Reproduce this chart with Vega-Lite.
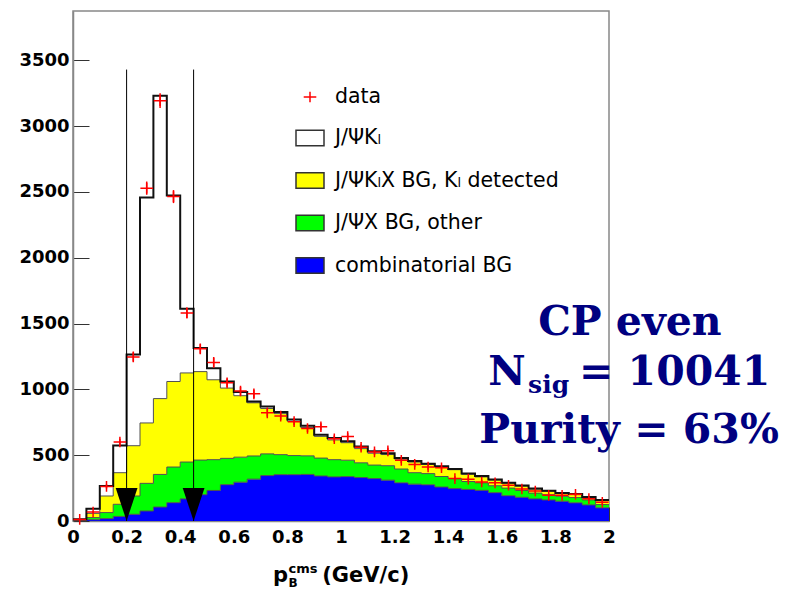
{
  "$schema": "https://vega.github.io/schema/vega-lite/v6.json",
  "width": 536,
  "height": 510,
  "autosize": "none",
  "padding": {"left": 73, "top": 11, "right": 176, "bottom": 70},
  "background": "white",
  "config": {"view": {"stroke": "#888888", "strokeWidth": 1.5}, "font": "DejaVu Sans"},
  "data": {"values": [
    {"p": 0.00, "c": 0.025, "comb": 2, "jpsix": 2, "kldet": 4, "sig": 6, "n": 12, "e": 3.5},
    {"p": 0.05, "c": 0.075, "comb": 10, "jpsix": 16, "kldet": 32, "sig": 36, "n": 68, "e": 8.2},
    {"p": 0.10, "c": 0.125, "comb": 18, "jpsix": 46, "kldet": 126, "sig": 76, "n": 263, "e": 16.2},
    {"p": 0.15, "c": 0.175, "comb": 35, "jpsix": 92, "kldet": 240, "sig": 207, "n": 600, "e": 24.5},
    {"p": 0.20, "c": 0.225, "comb": 51, "jpsix": 139, "kldet": 382, "sig": 693, "n": 1247, "e": 35.3},
    {"p": 0.25, "c": 0.275, "comb": 76, "jpsix": 210, "kldet": 459, "sig": 1713, "n": 2529, "e": 50.3},
    {"p": 0.30, "c": 0.325, "comb": 106, "jpsix": 248, "kldet": 576, "sig": 2302, "n": 3194, "e": 56.5},
    {"p": 0.35, "c": 0.375, "comb": 139, "jpsix": 271, "kldet": 650, "sig": 1413, "n": 2465, "e": 49.6},
    {"p": 0.40, "c": 0.425, "comb": 168, "jpsix": 280, "kldet": 677, "sig": 488, "n": 1581, "e": 39.8},
    {"p": 0.45, "c": 0.475, "comb": 200, "jpsix": 263, "kldet": 672, "sig": 180, "n": 1308, "e": 36.2},
    {"p": 0.50, "c": 0.525, "comb": 232, "jpsix": 234, "kldet": 607, "sig": 87, "n": 1205, "e": 34.7},
    {"p": 0.55, "c": 0.575, "comb": 276, "jpsix": 200, "kldet": 534, "sig": 50, "n": 1050, "e": 32.4},
    {"p": 0.60, "c": 0.625, "comb": 295, "jpsix": 190, "kldet": 467, "sig": 28, "n": 988, "e": 31.4},
    {"p": 0.65, "c": 0.675, "comb": 318, "jpsix": 176, "kldet": 404, "sig": 10, "n": 966, "e": 31.1},
    {"p": 0.70, "c": 0.725, "comb": 345, "jpsix": 165, "kldet": 345, "sig": 15, "n": 822, "e": 28.7},
    {"p": 0.75, "c": 0.775, "comb": 352, "jpsix": 152, "kldet": 312, "sig": 12, "n": 797, "e": 28.2},
    {"p": 0.80, "c": 0.825, "comb": 352, "jpsix": 145, "kldet": 260, "sig": 15, "n": 755, "e": 27.5},
    {"p": 0.85, "c": 0.875, "comb": 354, "jpsix": 141, "kldet": 215, "sig": 14, "n": 703, "e": 26.5},
    {"p": 0.90, "c": 0.925, "comb": 342, "jpsix": 136, "kldet": 165, "sig": 12, "n": 716, "e": 26.8},
    {"p": 0.95, "c": 0.975, "comb": 335, "jpsix": 131, "kldet": 150, "sig": 14, "n": 625, "e": 25},
    {"p": 1.00, "c": 1.025, "comb": 337, "jpsix": 125, "kldet": 133, "sig": 10, "n": 642, "e": 25.3},
    {"p": 1.05, "c": 1.075, "comb": 330, "jpsix": 112, "kldet": 108, "sig": 16, "n": 560, "e": 23.7},
    {"p": 1.10, "c": 1.125, "comb": 322, "jpsix": 103, "kldet": 90, "sig": 15, "n": 525, "e": 22.9},
    {"p": 1.15, "c": 1.175, "comb": 310, "jpsix": 110, "kldet": 85, "sig": 10, "n": 533, "e": 23.1},
    {"p": 1.20, "c": 1.225, "comb": 290, "jpsix": 105, "kldet": 75, "sig": 8, "n": 461, "e": 21.5},
    {"p": 1.25, "c": 1.275, "comb": 280, "jpsix": 87, "kldet": 81, "sig": 7, "n": 430, "e": 20.7},
    {"p": 1.30, "c": 1.325, "comb": 275, "jpsix": 85, "kldet": 70, "sig": 5, "n": 410, "e": 20.2},
    {"p": 1.35, "c": 1.375, "comb": 258, "jpsix": 80, "kldet": 72, "sig": 6, "n": 405, "e": 20.1},
    {"p": 1.40, "c": 1.425, "comb": 246, "jpsix": 76, "kldet": 68, "sig": 5, "n": 322, "e": 17.9},
    {"p": 1.45, "c": 1.475, "comb": 240, "jpsix": 60, "kldet": 55, "sig": 5, "n": 318, "e": 17.8},
    {"p": 1.50, "c": 1.525, "comb": 233, "jpsix": 57, "kldet": 45, "sig": 6, "n": 296, "e": 17.2},
    {"p": 1.55, "c": 1.575, "comb": 215, "jpsix": 53, "kldet": 44, "sig": 4, "n": 290, "e": 17},
    {"p": 1.60, "c": 1.625, "comb": 192, "jpsix": 58, "kldet": 38, "sig": 3, "n": 272, "e": 16.5},
    {"p": 1.65, "c": 1.675, "comb": 180, "jpsix": 52, "kldet": 33, "sig": 5, "n": 243, "e": 15.6},
    {"p": 1.70, "c": 1.725, "comb": 168, "jpsix": 44, "kldet": 30, "sig": 4, "n": 228, "e": 15.1},
    {"p": 1.75, "c": 1.775, "comb": 160, "jpsix": 40, "kldet": 26, "sig": 4, "n": 195, "e": 14},
    {"p": 1.80, "c": 1.825, "comb": 150, "jpsix": 38, "kldet": 22, "sig": 3, "n": 195, "e": 14},
    {"p": 1.85, "c": 1.875, "comb": 138, "jpsix": 40, "kldet": 22, "sig": 5, "n": 203, "e": 14.2},
    {"p": 1.90, "c": 1.925, "comb": 122, "jpsix": 38, "kldet": 18, "sig": 4, "n": 170, "e": 13},
    {"p": 1.95, "c": 1.975, "comb": 100, "jpsix": 25, "kldet": 30, "sig": 5, "n": 142, "e": 11.9},
    {"p": 2.00, "comb": 100, "jpsix": 25, "kldet": 30, "sig": 5}
  ]},
  "resolve": {"axis": {"y": "independent"}},
  "layer": [
    {
      "transform": [
        {"fold": ["comb", "jpsix", "kldet", "sig"], "as": ["comp", "v"]},
        {"stack": "v", "groupby": ["p"], "sort": [{"field": "comp", "order": "ascending"}], "as": ["v0", "v1"]}
      ],
      "layer": [
        {
          "mark": {"type": "area", "interpolate": "step-after"},
          "encoding": {
            "x": {"field": "p", "type": "quantitative", "title": null,
              "scale": {"domain": [0, 2], "nice": false, "zero": false},
              "axis": {"values": [0, 0.2, 0.4, 0.6, 0.8, 1, 1.2, 1.4, 1.6, 1.8, 2], "format": "~g", "title": null,
                "labelFont": "DejaVu Sans", "labelFontWeight": "bold", "labelFontSize": 18, "labelColor": "#000000",
                "labelPadding": 21, "tickSize": -14, "tickColor": "#333333", "tickWidth": 1,
                "domainColor": "#888888", "domainWidth": 1.5, "grid": false, "labelFlush": false, "labelOverlap": false, "labelBound": false}},
            "y": {"field": "v1", "type": "quantitative", "title": null,
              "scale": {"domain": [0, 3875], "nice": false},
              "axis": {"values": [0, 500, 1000, 1500, 2000, 2500, 3000, 3500], "format": "d", "title": null,
                "labelFont": "DejaVu Sans", "labelFontWeight": "bold", "labelFontSize": 18, "labelColor": "#000000",
                "labelPadding": 20, "tickSize": -16, "tickColor": "#333333", "tickWidth": 1,
                "domainColor": "#888888", "domainWidth": 1.5, "grid": false, "labelFlush": false, "labelOverlap": false}},
            "y2": {"field": "v0"},
            "color": {"field": "comp", "type": "nominal",
              "scale": {"domain": ["sig", "kldet", "jpsix", "comb"], "range": ["#ffffff", "#ffff00", "#00ff00", "#0000ff"]},
              "legend": {"orient": "none", "legendX": 222, "legendY": 112, "title": null, "padding": 0, "offset": 0,
                "symbolType": "M-1,-0.55L1,-0.55L1,0.55L-1,0.55Z", "symbolSize": 784,
                "symbolStrokeColor": "#333333", "symbolStrokeWidth": 1.5,
                "labelFont": "DejaVu Sans", "labelFontSize": 20.5, "labelColor": "#000000", "labelOffset": 10, "rowPadding": 16.5,
                "labelLimit": 400,
                "labelExpr": "datum.label === 'sig' ? 'J/\u03a8K\u2097' : datum.label === 'kldet' ? 'J/\u03a8K\u2097X BG, K\u2097 detected' : datum.label === 'jpsix' ? 'J/\u03a8X BG, other' : 'combinatorial BG'"}}
          }
        },
        {
          "mark": {"type": "line", "interpolate": "step-after"},
          "encoding": {
            "x": {"field": "p", "type": "quantitative", "title": null},
            "y": {"field": "v1", "type": "quantitative", "title": null},
            "detail": {"field": "comp"},
            "stroke": {"condition": {"test": "datum.comp === 'sig'", "value": "#111111"}, "value": "#505050"},
            "strokeWidth": {"condition": {"test": "datum.comp === 'sig'", "value": 2}, "value": 1}
          }
        }
      ]
    },
    {
      "data": {"values": [{"cut": 0.2}, {"cut": 0.45}]},
      "layer": [
        {
          "mark": {"type": "rule", "color": "#000000", "strokeWidth": 1},
          "encoding": {
            "x": {"field": "cut", "type": "quantitative", "title": null},
            "y": {"datum": 3430, "type": "quantitative",
              "axis": {"orient": "left", "values": [100, 200, 300, 400, 600, 700, 800, 900, 1100, 1200, 1300, 1400, 1600, 1700, 1800, 1900, 2100, 2200, 2300, 2400, 2600, 2700, 2800, 2900, 3100, 3200, 3300, 3400, 3600, 3700, 3800],
                "labels": false, "domain": false, "grid": false, "title": null, "tickSize": -9, "tickColor": "#333333", "tickWidth": 1}},
            "y2": {"datum": 0}
          }
        },
        {
          "mark": {"type": "point", "shape": "M-0.66,-2L0.66,-2L0,0Z", "size": 1089, "filled": true, "color": "#000000", "opacity": 1},
          "encoding": {
            "x": {"field": "cut", "type": "quantitative", "title": null},
            "y": {"datum": 0, "type": "quantitative", "axis": null}
          }
        }
      ]
    },
    {
      "transform": [{"filter": "isValid(datum.n)"}],
      "layer": [
        {
          "mark": {"type": "errorbar", "color": "#ff0000", "thickness": 1.5},
          "encoding": {
            "x": {"field": "c", "type": "quantitative", "title": null},
            "y": {"field": "n", "type": "quantitative", "title": null, "axis": null},
            "yError": {"field": "e"}
          }
        },
        {
          "mark": {"type": "point", "filled": false, "color": "#ff0000", "strokeWidth": 1.5, "size": 784, "opacity": 1},
          "encoding": {
            "x": {"field": "c", "type": "quantitative", "title": null},
            "y": {"field": "n", "type": "quantitative", "title": null, "axis": null},
            "shape": {"datum": "data", "type": "nominal",
              "scale": {"range": ["M-0.45,0L0.45,0M0,-0.38L0,0.38"]},
              "legend": {"orient": "none", "legendX": 222, "legendY": 71, "title": null, "padding": 0, "offset": 0,
                "symbolSize": 784, "symbolStrokeColor": "#ff0000", "symbolStrokeWidth": 1.5,
                "labelFont": "DejaVu Sans", "labelFontSize": 20.5, "labelColor": "#000000", "labelOffset": 10}}
          }
        }
      ]
    },
    {
      "data": {"values": [{}]},
      "mark": {"type": "text", "text": "CP even", "font": "DejaVu Serif", "fontSize": 41, "fontWeight": "bold", "color": "#000080", "align": "center", "baseline": "alphabetic"},
      "encoding": {"x": {"datum": 2.078}, "y": {"datum": 1413, "axis": null}}
    },
    {
      "data": {"values": [{}]},
      "mark": {"type": "text", "text": "N", "font": "DejaVu Serif", "fontSize": 41, "fontWeight": "bold", "color": "#000080", "align": "left", "baseline": "alphabetic"},
      "encoding": {"x": {"datum": 1.549}, "y": {"datum": 1033, "axis": null}}
    },
    {
      "data": {"values": [{}]},
      "mark": {"type": "text", "text": "sig", "font": "DejaVu Serif", "fontSize": 25, "fontWeight": "bold", "color": "#000080", "align": "left", "baseline": "alphabetic"},
      "encoding": {"x": {"datum": 1.698}, "y": {"datum": 973, "axis": null}}
    },
    {
      "data": {"values": [{}]},
      "mark": {"type": "text", "text": "= 10041", "font": "DejaVu Serif", "fontSize": 41, "fontWeight": "bold", "color": "#000080", "align": "left", "baseline": "alphabetic"},
      "encoding": {"x": {"datum": 1.888}, "y": {"datum": 1033, "axis": null}}
    },
    {
      "data": {"values": [{}]},
      "mark": {"type": "text", "text": "Purity = 63%", "font": "DejaVu Serif", "fontSize": 41, "fontWeight": "bold", "color": "#000080", "align": "center", "baseline": "alphabetic"},
      "encoding": {"x": {"datum": 2.075}, "y": {"datum": 593, "axis": null}}
    },
    {
      "data": {"values": [{}]},
      "mark": {"type": "text", "text": "p", "font": "DejaVu Sans", "fontSize": 21, "fontWeight": "bold", "color": "#000000", "align": "left", "baseline": "alphabetic", "dy": 61},
      "encoding": {"x": {"datum": 0.746}, "y": {"datum": 0, "axis": null}}
    },
    {
      "data": {"values": [{}]},
      "mark": {"type": "text", "text": "cms", "font": "DejaVu Sans", "fontSize": 13, "fontWeight": "bold", "color": "#000000", "align": "left", "baseline": "alphabetic", "dy": 52},
      "encoding": {"x": {"datum": 0.8045}, "y": {"datum": 0, "axis": null}}
    },
    {
      "data": {"values": [{}]},
      "mark": {"type": "text", "text": "B", "font": "DejaVu Sans", "fontSize": 12, "fontWeight": "bold", "color": "#000000", "align": "left", "baseline": "alphabetic", "dy": 66},
      "encoding": {"x": {"datum": 0.8045}, "y": {"datum": 0, "axis": null}}
    },
    {
      "data": {"values": [{}]},
      "mark": {"type": "text", "text": "(GeV/c)", "font": "DejaVu Sans", "fontSize": 21, "fontWeight": "bold", "color": "#000000", "align": "left", "baseline": "alphabetic", "dy": 61},
      "encoding": {"x": {"datum": 0.93}, "y": {"datum": 0, "axis": null}}
    }
  ]
}
